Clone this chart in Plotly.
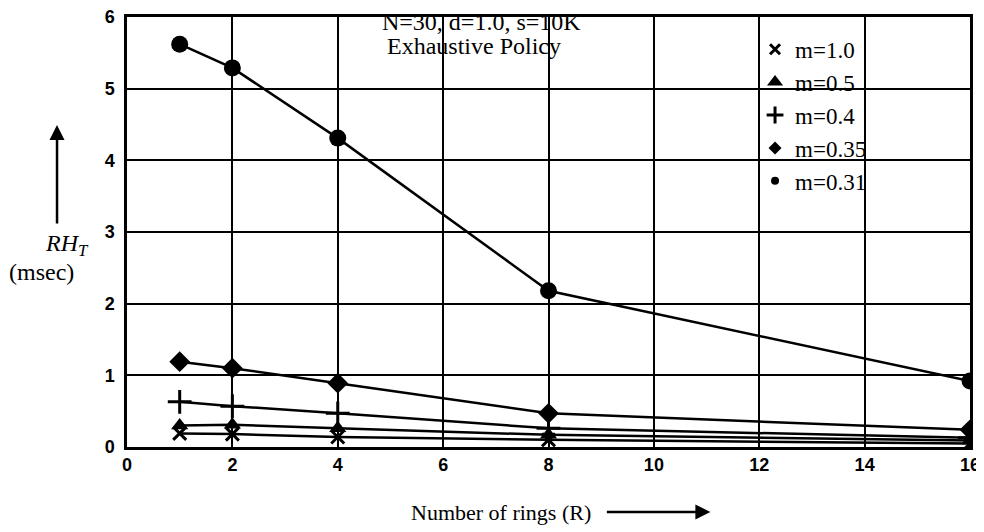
import plotly.graph_objects as go

rings = [1, 2, 4, 8, 16]
m_labels = ["m=1.0", "m=0.5", "m=0.4", "m=0.35", "m=0.31"]
m10 = [0.19, 0.18, 0.14, 0.10, 0.05]
m05 = [0.30, 0.31, 0.26, 0.17, 0.09]
m04 = [0.63, 0.57, 0.47, 0.26, 0.13]
m035 = [1.19, 1.10, 0.89, 0.47, 0.24]
m031 = [5.62, 5.29, 4.31, 2.18, 0.92]
series = [m10, m05, m04, m035, m031]
symbols = ["x-thin", "triangle-up", "cross-thin", "diamond", "circle"]
sizes = [13, 15, 17, 16, 17]
legend_sizes = [10, 14, 12, 10, 8]
x_ticks = [0, 2, 4, 6, 8, 10, 12, 14, 16]
y_ticks = [0, 1, 2, 3, 4, 5, 6]

fig = go.Figure()
for name, ys, sym, sz in zip(m_labels, series, symbols, sizes):
    fig.add_trace(go.Scatter(
        x=rings, y=ys, mode="lines+markers", showlegend=False,
        line=dict(color="black", width=2.5),
        marker=dict(symbol=sym, size=sz, color="black",
                    line=dict(color="black", width=3 if "thin" in sym else 0)),
    ))
for name, sym, sz in zip(m_labels, symbols, legend_sizes):
    fig.add_trace(go.Scatter(
        x=[None], y=[None], mode="markers", name=name,
        marker=dict(symbol=sym, size=sz, color="black",
                    line=dict(color="black", width=3 if "thin" in sym else 0)),
    ))

axis_common = dict(
    showgrid=True, gridcolor="black", gridwidth=2,
    showline=True, linecolor="black", linewidth=2.5, mirror=True,
    zeroline=False, ticks="", automargin=False, ticklabeloverflow="allow",
    tickfont=dict(family="Liberation Sans", size=18, color="black", weight="bold"),
)
fig.update_xaxes(range=[0, 16], tickvals=x_ticks, **axis_common)
fig.update_yaxes(range=[0, 6], tickvals=y_ticks, ticklabelstandoff=6, **axis_common)

serif = dict(family="Liberation Serif", size=24, color="black")
fig.update_layout(
    width=984, height=532,
    margin=dict(l=119, r=22, t=9, b=93),
    plot_bgcolor="white", paper_bgcolor="white",
    font=serif,
    legend=dict(x=0.745, y=0.975, xanchor="left", yanchor="top",
                bgcolor="rgba(0,0,0,0)", font=dict(family="Liberation Serif", size=23),
                itemwidth=30, tracegroupgap=0),
    annotations=[
        dict(text="N=30, d=1.0, s=10K", x=0.421, y=0.988, xref="paper", yref="paper",
             xanchor="center", yanchor="middle", showarrow=False, font=serif),
        dict(text="Exhaustive Policy", x=0.306, y=0.933, xref="paper", yref="paper",
             xanchor="left", yanchor="middle", showarrow=False, font=serif),
        dict(text="Number of rings (R)", x=0.444, y=-0.153, xref="paper", yref="paper",
             xanchor="center", yanchor="middle", showarrow=False,
             font=dict(family="Liberation Serif", size=22, color="black")),
        dict(text="", x=0.692, y=-0.151, xref="paper", yref="paper",
             ax=-105, ay=0, showarrow=True, arrowhead=2, arrowsize=1.2,
             arrowwidth=2.5, arrowcolor="black"),
        dict(text="", x=-0.083, y=0.749, xref="paper", yref="paper",
             ax=0, ay=100, showarrow=True, arrowhead=2, arrowsize=1.2,
             arrowwidth=2.5, arrowcolor="black"),
        dict(text="<i>RH<sub>T</sub></i>", x=-0.071, y=0.47, xref="paper", yref="paper",
             xanchor="center", yanchor="middle", showarrow=False, font=serif),
        dict(text="(msec)", x=-0.102, y=0.407, xref="paper", yref="paper",
             xanchor="center", yanchor="middle", showarrow=False, font=serif),
    ],
)
fig.write_html("out.html")
